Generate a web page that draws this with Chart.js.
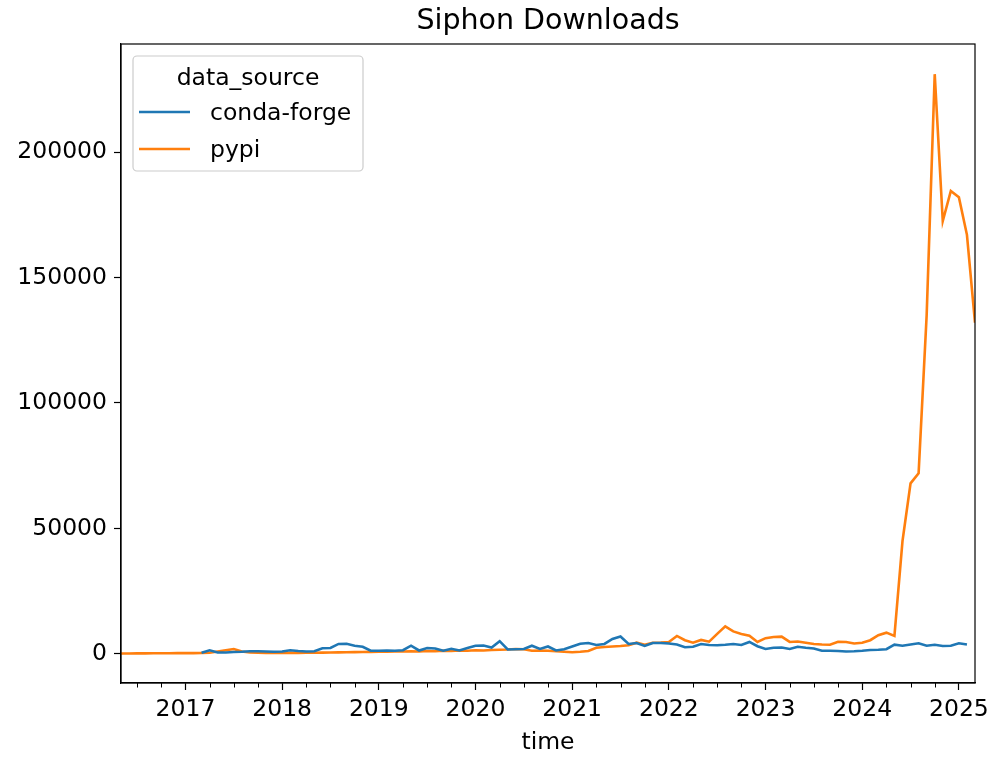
<!DOCTYPE html>
<html>
<head>
<meta charset="utf-8">
<script src="https://cdn.jsdelivr.net/npm/chart.js@4"></script>
<style>
  html, body { margin: 0; padding: 0; background: #fff; }
</style>
</head>
<body>
<canvas id="chart" width="993" height="759"></canvas>
<script>
const ctx = document.getElementById("chart");

// monthly periods, 2016-05 .. 2025-03
const months = [
  "2016-05", "2016-06", "2016-07", "2016-08", "2016-09", "2016-10", "2016-11", "2016-12",
  "2017-01", "2017-02", "2017-03", "2017-04", "2017-05", "2017-06", "2017-07", "2017-08", "2017-09", "2017-10", "2017-11", "2017-12",
  "2018-01", "2018-02", "2018-03", "2018-04", "2018-05", "2018-06", "2018-07", "2018-08", "2018-09", "2018-10", "2018-11", "2018-12",
  "2019-01", "2019-02", "2019-03", "2019-04", "2019-05", "2019-06", "2019-07", "2019-08", "2019-09", "2019-10", "2019-11", "2019-12",
  "2020-01", "2020-02", "2020-03", "2020-04", "2020-05", "2020-06", "2020-07", "2020-08", "2020-09", "2020-10", "2020-11", "2020-12",
  "2021-01", "2021-02", "2021-03", "2021-04", "2021-05", "2021-06", "2021-07", "2021-08", "2021-09", "2021-10", "2021-11", "2021-12",
  "2022-01", "2022-02", "2022-03", "2022-04", "2022-05", "2022-06", "2022-07", "2022-08", "2022-09", "2022-10", "2022-11", "2022-12",
  "2023-01", "2023-02", "2023-03", "2023-04", "2023-05", "2023-06", "2023-07", "2023-08", "2023-09", "2023-10", "2023-11", "2023-12",
  "2024-01", "2024-02", "2024-03", "2024-04", "2024-05", "2024-06", "2024-07", "2024-08", "2024-09", "2024-10", "2024-11", "2024-12",
  "2025-01", "2025-02", "2025-03",
];

const condaForge = [
  null, null, null, null, null, null, null, null,
  null, null, 500, 1500, 600, 600, 800, 900, 1100, 1100, 1000, 900,
  1000, 1500, 1200, 1000, 1100, 2300, 2400, 4000, 4100, 3300, 2900, 1300,
  1300, 1400, 1300, 1500, 3300, 1400, 2400, 2200, 1300, 2100, 1400, 2400,
  3300, 3400, 2600, 5100, 1800, 1900, 2000, 3300, 2000, 3000, 1400, 1900,
  3000, 4100, 4400, 3600, 4000, 6000, 7000, 4000, 4400, 3200, 4400, 4400,
  4200, 3800, 2700, 2900, 4000, 3600, 3500, 3700, 4000, 3600, 4800, 3100,
  2000, 2500, 2600, 2000, 2900, 2500, 2200, 1300, 1300, 1200, 1000, 1100,
  1300, 1600, 1700, 1900, 3700, 3300, 3800, 4300, 3300, 3700, 3200, 3300,
  4300, 3800, null,
];

const pypi = [
  200, 200, 250, 250, 300, 300, 300, 350,
  350, 350, 400, 500, 1000, 1500, 2000, 1000, 600, 500, 450, 400,
  400, 450, 450, 500, 500, 550, 600, 650, 700, 750, 800, 850,
  900, 950, 1000, 1000, 1100, 1000, 1200, 1100, 1300, 1200, 1400, 1300,
  1500, 1400, 1600, 1700, 1800, 2000, 1900, 1300, 1400, 1300, 1100, 900,
  700, 900, 1200, 2500, 2800, 3000, 3200, 3500, 4500, 3700, 4500, 4600,
  4800, 7200, 5500, 4500, 5600, 4900, 8000, 11000, 9000, 8000, 7300, 4800,
  6300, 6800, 6900, 4800, 5000, 4500, 4000, 3800, 3700, 4900, 4800, 4200,
  4500, 5500, 7500, 8500, 7200, 45000, 68000, 72000, 135000, 231000, 172500, 184500,
  182000, 167000, 132000,
];

const yearTicks = [2017, 2018, 2019, 2020, 2021, 2022, 2023, 2024, 2025];
const downloadTicks = [0, 50000, 100000, 150000, 200000];

const FONT = "'DejaVu Sans', sans-serif";
const TXT = 23.5;

// period string -> fractional year
const toX = (m) => Number(m.slice(0, 4)) + (Number(m.slice(5, 7)) - 1) / 12;

function series(values) {
  return months.map((m, i) => ({ x: toX(m), y: values[i] }));
}

// matplotlib-like extras: title over the axes, full frame, quarter minor ticks, legend box
const mplBits = {
  id: "mplBits",
  afterDraw(chart) {
    const c = chart.ctx;
    const a = chart.chartArea;
    const xs = chart.scales.x;

    c.save();
    // title
    c.fillStyle = "#000";
    c.font = "28.5px " + FONT;
    c.textAlign = "center";
    c.textBaseline = "middle";
    c.fillText("Siphon Downloads", (a.left + a.right) / 2, 22);

    // frame
    c.strokeStyle = "#000";
    c.lineWidth = 1.2;
    c.strokeRect(a.left, a.top, a.right - a.left, a.bottom - a.top);

    // minor ticks every quarter
    c.lineWidth = 1;
    for (let q = Math.ceil(xs.min * 4) / 4; q <= xs.max + 1e-9; q += 0.25) {
      if (Math.abs(q - Math.round(q)) < 1e-6) continue;
      const px = Math.round(xs.getPixelForValue(q)) + 0.5;
      c.beginPath();
      c.moveTo(px, a.bottom);
      c.lineTo(px, a.bottom + 4.5);
      c.stroke();
    }

    // legend
    const lx = a.left + 12, ly = a.top + 12, lw = 230, lh = 115;
    c.beginPath();
    c.roundRect(lx, ly, lw, lh, 4);
    c.fillStyle = "rgba(255,255,255,0.8)";
    c.fill();
    c.strokeStyle = "#cccccc";
    c.lineWidth = 1.2;
    c.stroke();

    c.fillStyle = "#000";
    c.font = TXT + "px " + FONT;
    c.textAlign = "center";
    c.fillText("data_source", lx + lw / 2, ly + 23);

    c.textAlign = "left";
    chart.data.datasets.forEach((ds, i) => {
      const yy = ly + 56 + i * 37;
      c.strokeStyle = ds.borderColor;
      c.lineWidth = 2.6;
      c.beginPath();
      c.moveTo(lx + 6, yy);
      c.lineTo(lx + 57, yy);
      c.stroke();
      c.fillStyle = "#000";
      c.fillText(ds.label, lx + 77, yy + 2);
    });
    c.restore();
  },
};

new Chart(ctx, {
  type: "line",
  data: {
    datasets: [
      {
        label: "conda-forge",
        data: series(condaForge),
        borderColor: "#1f77b4",
        borderWidth: 2.6,
        pointRadius: 0,
        tension: 0,
        spanGaps: false,
      },
      {
        label: "pypi",
        data: series(pypi),
        borderColor: "#ff7f0e",
        borderWidth: 2.6,
        pointRadius: 0,
        tension: 0,
        spanGaps: false,
      },
    ],
  },
  options: {
    responsive: false,
    animation: false,
    layout: { padding: { top: 44, right: 18, left: 0, bottom: 0 } },
    plugins: {
      legend: { display: false },
      title: { display: false },
      tooltip: { enabled: false },
    },
    scales: {
      x: {
        type: "linear",
        min: toX(months[0]),
        max: toX(months[months.length - 1]),
        afterBuildTicks: (s) => { s.ticks = yearTicks.map((v) => ({ value: v })); },
        afterFit: (s) => {
          s.height = 76;
          s.paddingLeft = 0;
          s.paddingRight = 0;
        },
        ticks: {
          callback: (v) => String(v),
          color: "#000",
          font: { family: FONT, size: TXT },
          padding: 6,
          maxRotation: 0,
          autoSkip: false,
        },
        grid: {
          drawOnChartArea: false,
          drawTicks: true,
          tickLength: 7,
          tickColor: "#000",
          tickWidth: 1.2,
        },
        border: { display: true, color: "#000", width: 1.2 },
        title: {
          display: true,
          text: "time",
          color: "#000",
          font: { family: FONT, size: TXT },
          padding: { top: 2, bottom: 2 },
        },
      },
      y: {
        min: -11554,
        max: 243028,
        afterBuildTicks: (s) => { s.ticks = downloadTicks.map((v) => ({ value: v })); },
        afterFit: (s) => { s.width = 121; },
        ticks: {
          callback: (v) => String(v),
          color: "#000",
          font: { family: FONT, size: TXT },
          padding: 7,
        },
        grid: {
          drawOnChartArea: false,
          drawTicks: true,
          tickLength: 7,
          tickColor: "#000",
          tickWidth: 1.2,
        },
        border: { display: true, color: "#000", width: 1.2 },
      },
    },
  },
  plugins: [mplBits],
});
</script>
</body>
</html>
